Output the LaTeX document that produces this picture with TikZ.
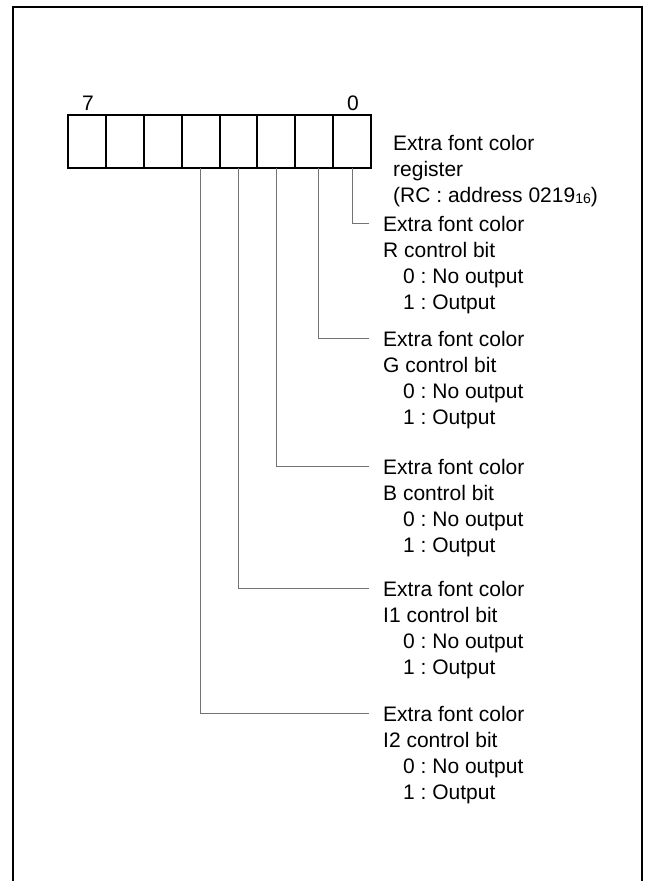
\documentclass[tikz,border=0pt]{standalone}
\usepackage{fontspec}
\setmainfont{Liberation Sans}
\frenchspacing
\begin{document}
\begin{tikzpicture}[x=1pt,y=-1pt,
  frame/.style={line width=2pt,black},
  cell/.style={draw,line width=2pt,minimum width=37.875pt,minimum height=53pt,inner sep=0pt,outer sep=0pt,anchor=north west},
  conn/.style={line width=1pt,draw=black!55},
  txt/.style={font=\fontsize{21}{26}\selectfont,align=left,inner sep=0pt,anchor=base west},
  bitno/.style={font=\fontsize{21}{26}\selectfont,inner sep=0pt,anchor=base}]
\useasboundingbox (0,0) rectangle (645,881);
\draw[frame] (12.5,881) -- (12.5,7) -- (642,7) -- (642,881);
% register cells
\foreach \i [evaluate=\i as \xx using 68+(7-\i)*37.875] in {7,6,...,0}{
  \node[cell] (b\i) at (\xx,115) {};
}
\node[bitno] (n7) at (88,110) {7};
\node[bitno] (n0) at (353,110) {0};
% (anchor base west = baseline of the last line)
\node[txt] (reg) at (393,202) {Extra font color\\register\\(RC : address 0219\raisebox{-1pt}{\fontsize{14}{14}\selectfont 16})};
% bit descriptions
\node[txt] (tr) at (383,309) {Extra font color\\R control bit\\\hspace*{20pt}0 : No output\\\hspace*{20pt}1 : Output};
\node[txt] (tg) at (383,424) {Extra font color\\G control bit\\\hspace*{20pt}0 : No output\\\hspace*{20pt}1 : Output};
\node[txt] (tb) at (383,552) {Extra font color\\B control bit\\\hspace*{20pt}0 : No output\\\hspace*{20pt}1 : Output};
\node[txt] (ti1) at (383,674) {Extra font color\\I1 control bit\\\hspace*{20pt}0 : No output\\\hspace*{20pt}1 : Output};
\node[txt] (ti2) at (383,799) {Extra font color\\I2 control bit\\\hspace*{20pt}0 : No output\\\hspace*{20pt}1 : Output};
% connector ends
\coordinate (er) at (369,223);
\coordinate (eg) at (369,338);
\coordinate (eb) at (369,466);
\coordinate (ei1) at (369,588);
\coordinate (ei2) at (369,713);
\draw[conn] (b0.south) |- (er);
\draw[conn] ([xshift=4pt]b1.south) |- (eg);
\draw[conn] (b2.south) |- (eb);
\draw[conn] (b3.south) |- (ei1);
\draw[conn] (b4.south) |- (ei2);
\end{tikzpicture}
\end{document}
